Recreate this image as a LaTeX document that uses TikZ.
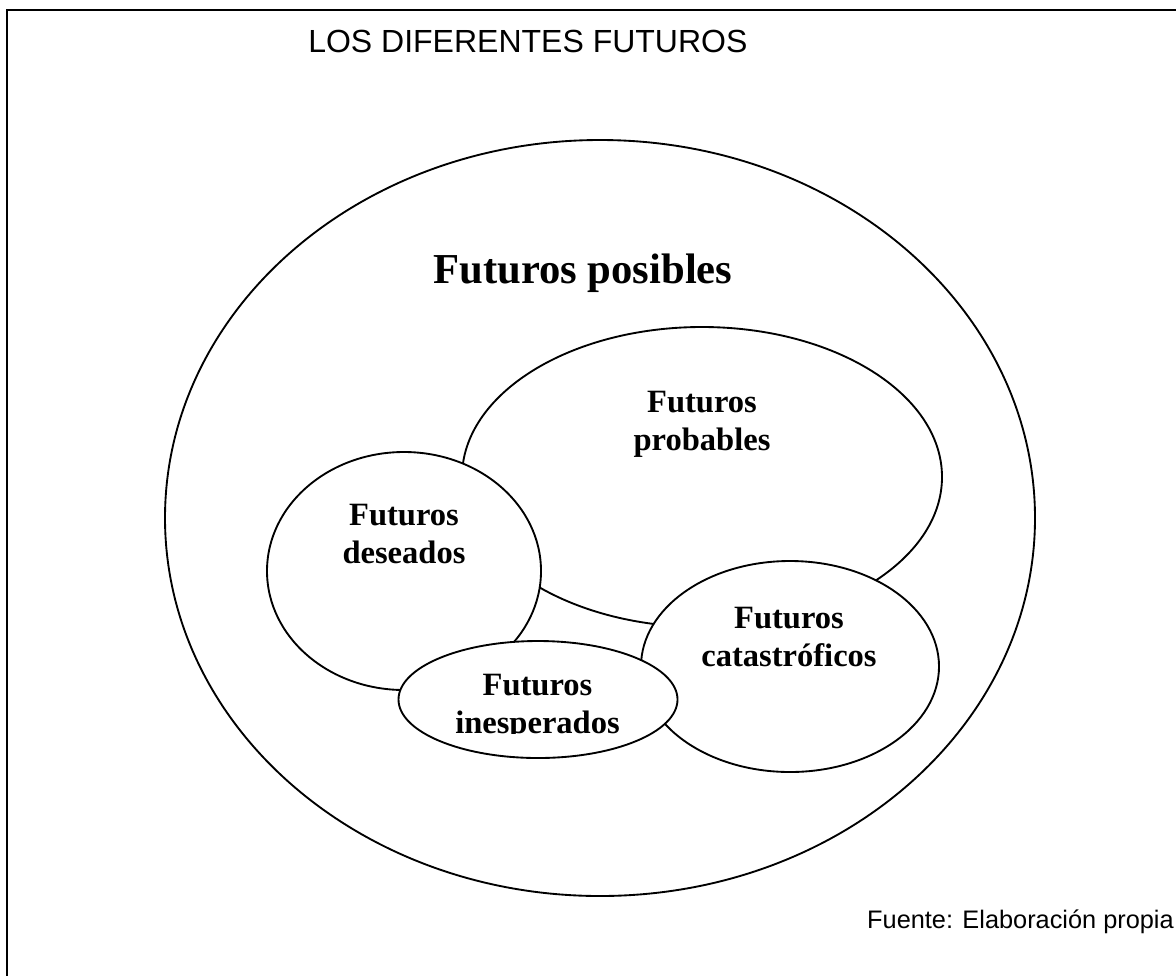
\documentclass[tikz,border=0pt]{standalone}
\usepackage{fontspec}
\setmainfont{Liberation Serif}
\newfontfamily\arialf{Liberation Sans}
\usetikzlibrary{shapes.geometric}
\begin{document}
\begin{tikzpicture}[x=0.75pt,y=-0.75pt,
  oval/.style={ellipse, draw=black, fill=white, line width=1.4pt, inner sep=0pt},
  lbl/.style={align=center, font=\fontsize{24.4}{28.5}\selectfont\bfseries, inner sep=0pt},
  frame/.style={line width=2pt, line cap=rect}]
\useasboundingbox (0,0) rectangle (1176,975);
% frame
\coordinate (ftl) at (7,10);
\coordinate (ftr) at (1176,10);
\coordinate (fbl) at (7,975);
\draw[frame] (ftr) -- (ftl) -- (fbl);
% title
\node[anchor=base west, inner sep=0pt, font=\arialf\fontsize{24}{28}\selectfont] (title) at (308,52) {LOS DIFERENTES FUTUROS};
% ellipses
\node[oval, minimum width=652.5pt, minimum height=567pt] (posibles) at (600,518) {};
\node[oval, minimum width=360pt, minimum height=225pt] (probables) at (702,477) {};
\node[oval, minimum width=205.5pt, minimum height=178.5pt] (deseados) at (404,571) {};
\node[oval, minimum width=223.5pt, minimum height=158.25pt] (catastroficos) at (790,666.5) {};
\node[oval, minimum width=209.25pt, minimum height=87.75pt] (inesperados) at (538,699.5) {};
% labels
\node[anchor=base, inner sep=0pt, font=\fontsize{32}{36}\selectfont\bfseries] (lposibles) at (583,283) {Futuros posibles};
\node[lbl] (lprobables) at (702,424.5) {Futuros\\probables};
\node[lbl] (ldeseados) at (404,534) {Futuros\\deseados};
\node[lbl] (lcatastroficos) at (789,637) {Futuros\\catastróficos};
\begin{scope}
\clip (380,640) rectangle (700,733);
\node[lbl] (linesperados) at (537.5,707.5) {Futuros\\inesperados};
\end{scope}
% source
\node[anchor=base east, inner sep=0pt, font=\arialf\fontsize{19}{23}\selectfont] (fuente) at (1174,928) {Fuente: Elaboración propia};
\end{tikzpicture}
\end{document}
